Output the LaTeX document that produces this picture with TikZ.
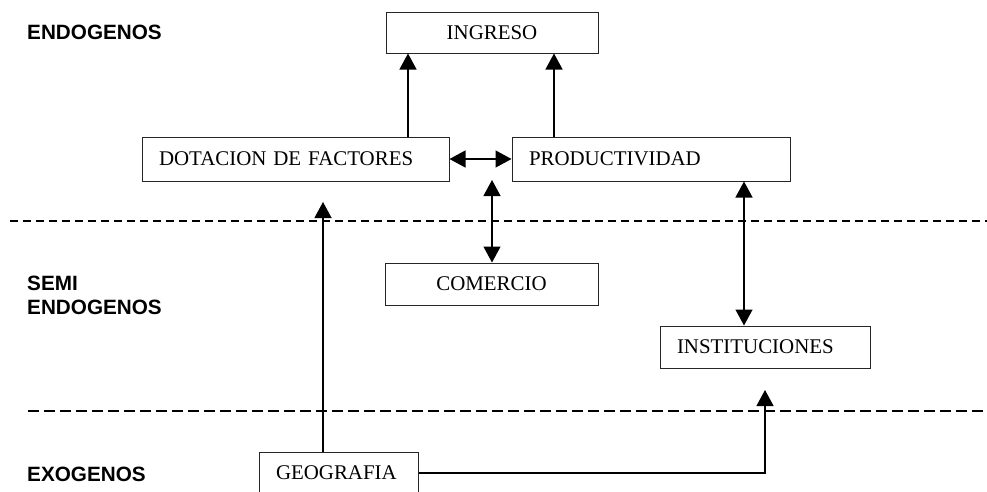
\documentclass[tikz,border=0pt]{standalone}
\usepackage{fontspec}
\setmainfont{Liberation Serif}
\newfontfamily\labfont{Liberation Sans}
\usetikzlibrary{arrows.meta}
\begin{document}
\begin{tikzpicture}[x=1pt,y=-1pt,
  boxc/.style={draw=black!85,line width=1pt,inner sep=0pt,font=\fontsize{20.9}{24}\selectfont},
  boxl/.style={draw=black!85,line width=1pt,inner ysep=0pt,inner xsep=17pt,align=left,font=\fontsize{20.9}{24}\selectfont},
  lab/.style={anchor=base west,inner sep=0pt,font=\labfont\bfseries\fontsize{20.7}{24}\selectfont},
  conn/.style={line width=1.3pt,-{Triangle[length=16pt,width=17pt]}},
  dconn/.style={line width=1.3pt,{Triangle[length=16pt,width=17pt]}-{Triangle[length=16pt,width=17pt]}},
  plain/.style={line width=1.3pt}]
\useasboundingbox (0,0) rectangle (987,491);
\clip (0,0) rectangle (987,491);
\fill[white] (0,0) rectangle (987,491);

% dashed separators
\draw[line width=1.2pt,dash pattern=on 8pt off 5pt] (10,221) -- (987,221);
\draw[line width=2.5pt,dash pattern=on 10.5pt off 5.5pt] (28,411) -- (987,411);

% level labels
\node[lab] (endo) at (27,39) {ENDOGENOS};
\node[lab] (semi) at (27,290) {SEMI};
\node[lab] (semi2) at (27,314) {ENDOGENOS};
\node[lab] (exo) at (27,481) {EXOGENOS};

% boxes
\node[boxc,minimum width=212pt,minimum height=41pt] (ing) at (492,32.5) {INGRESO};
\node[boxl,text width=273pt,minimum height=44pt] (dot) at (295.5,159) {DOTACION DE FACTORES};
\node[boxl,text width=244pt,minimum height=44pt] (prod) at (651,159) {PRODUCTIVIDAD};
\node[boxc,minimum width=213pt,minimum height=42pt] (com) at (491.5,284) {COMERCIO};
\node[boxl,text width=176pt,minimum height=42pt] (inst) at (765,347) {INSTITUCIONES};
\node[boxl,text width=125pt,minimum height=42pt] (geo) at (338.5,473) {GEOGRAFIA};

% free ends
\coordinate (ctop) at (492,180);
\coordinate (gtip) at (323,202);
\coordinate (itip) at (765,390);

% connectors
\draw[conn] (dot.north -| 408,0) -- (ing.south -| 408,0);
\draw[conn] (prod.north -| 554,0) -- (ing.south -| 554,0);
\draw[dconn] (dot.east) -- (prod.west);
\draw[dconn] (ctop) -- (com.north -| ctop);
\draw[dconn] (prod.south -| 744,0) -- (inst.north -| 744,0);
\draw[conn] (geo.north -| gtip) -- (gtip);
\draw[conn] (geo.east) -| (itip);
\end{tikzpicture}
\end{document}
